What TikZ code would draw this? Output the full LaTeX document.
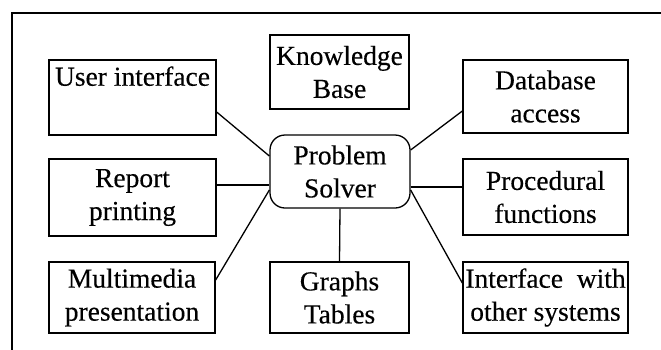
\documentclass[tikz,border=0pt]{standalone}
\usepackage{fontspec}
\setmainfont{Liberation Serif}[FakeBold=0.3]
\usepackage{tikz}
\usetikzlibrary{positioning}

\begin{document}
\begin{tikzpicture}[x=1pt,y=-1pt,line width=1.3pt,
		box/.style={draw,rectangle,align=center,inner sep=0pt,font=\fontsize{27.5}{33}\selectfont},
		solver/.style={box,rounded corners=15pt}]
			\useasboundingbox (0,0) rectangle (661,349);
			\clip (0,0) rectangle (661,349);
			\draw[line width=1.2pt] (12,13) rectangle (700,380);
			\node[solver, minimum width=140pt, minimum height=73pt] (ps) at (340,171.5) {Problem\\Solver};
			\node[box, minimum width=167pt, minimum height=75pt] (ui) at (132.5,97.5) {User interface\\\strut};
			\node[box, minimum width=139pt, minimum height=74pt] (kb) at (339.5,72) {Knowledge\\Base};
			\node[box, minimum width=165pt, minimum height=73pt] (db) at (545.5,96.5) {Database\\access};
			\node[box, minimum width=167pt, minimum height=77pt] (rp) at (132.5,197.5) {Report\\printing};
			\node[box, minimum width=165pt, minimum height=76pt] (pf) at (545.5,197) {Procedural\\functions};
			\node[box, minimum width=166pt, minimum height=71pt] (mm) at (132,297.5) {Multimedia\\presentation};
			\node[box, minimum width=139pt, minimum height=71pt] (gt) at (339.5,297.5) {Graphs\\Tables};
			\node[box, minimum width=165pt, minimum height=71pt] (io) at (545.5,297.5) {Interface\ \ with\\other systems};
			\draw ([yshift=-14.5pt]ui.east) -- ([yshift=15.5pt]ps.west);
			\draw ([yshift=12.5pt]rp.east)  -- ([yshift=-13.5pt]ps.west);
			\draw ([yshift=17.5pt]mm.east)  -- ([yshift=-18.5pt]ps.west);
			\draw ([yshift=21.5pt]ps.east)  -- ([yshift=-14.5pt]db.west);
			\draw ([yshift=-15.5pt]ps.east) -- ([yshift=10pt]pf.west);
			\draw ([yshift=-18.5pt]ps.east) -- ([yshift=14.5pt]io.west);
			\draw (ps.south) -- (gt.north);
		\end{tikzpicture}
\end{document}
